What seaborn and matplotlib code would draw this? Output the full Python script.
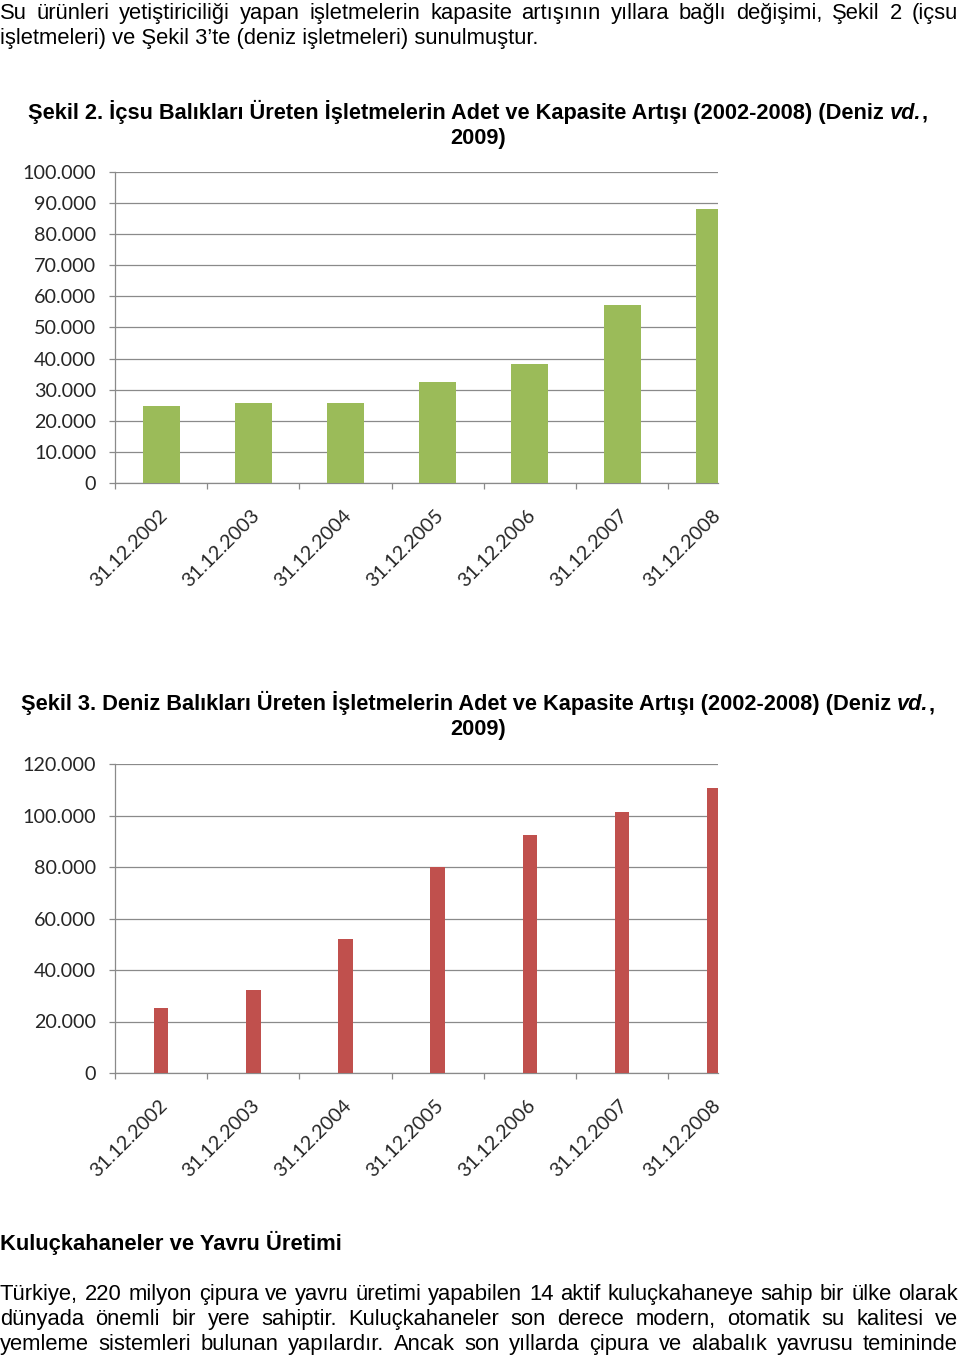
import matplotlib
matplotlib.use("Agg")
import matplotlib.pyplot as plt
import matplotlib.transforms as mtransforms
from matplotlib.ticker import FuncFormatter, MultipleLocator, FixedLocator
import numpy as np
import pandas as pd
import seaborn as sns

# ---------------- data ----------------
dates = ["31.12.2002", "31.12.2003", "31.12.2004", "31.12.2005",
         "31.12.2006", "31.12.2007", "31.12.2008"]
icsu_values = [24800, 25600, 25600, 32600, 38300, 57200, 88100]
deniz_values = [25200, 32300, 52200, 80000, 92400, 101400, 110800]

intro_line1 = ("Su ürünleri yetiştiriciliği yapan işletmelerin kapasite artışının "
               "yıllara bağlı değişimi, Şekil 2 (içsu")
intro_line2 = "işletmeleri) ve Şekil 3’te (deniz işletmeleri) sunulmuştur."
cap1 = "Şekil 2. İçsu Balıkları Üreten İşletmelerin Adet ve Kapasite Artışı (2002-2008) (Deniz"
cap2 = "Şekil 3. Deniz Balıkları Üreten İşletmelerin Adet ve Kapasite Artışı (2002-2008) (Deniz"
cap_end = "2009)"
heading = "Kuluçkahaneler ve Yavru Üretimi"
para = [
    "Türkiye, 220 milyon çipura ve yavru üretimi yapabilen 14 aktif kuluçkahaneye sahip bir ülke olarak",
    "dünyada önemli bir yere sahiptir. Kuluçkahaneler son derece modern, otomatik su kalitesi ve",
    "yemleme sistemleri bulunan yapılardır. Ancak son yıllarda çipura ve alabalık yavrusu temininde",
]

# ---------------- style ----------------
W, H = 960, 1356
sns.set_style("white")
plt.rcParams["font.family"] = ["Liberation Sans", "DejaVu Sans"]
GRID = "#8a8a8a"
GREEN = "#9BBB59"
RED = "#C0504D"
BODY_FS = 15.8
CAP_FS = 15.65
TICK_FONT = "Lato"
TICK_FS = 14.2

fig = plt.figure(figsize=(W / 100, H / 100), dpi=100)
fig.patch.set_facecolor("white")
renderer = fig.canvas.get_renderer()


def px_axes(l, t, r, b):
    return fig.add_axes([l / W, 1 - b / H, (r - l) / W, (b - t) / H])


def text_w(s, **kw):
    t = fig.text(0, 0, s, **kw)
    w = t.get_window_extent(renderer).width
    t.remove()
    return w


def space_w(**kw):
    return text_w("a a", **kw) - text_w("aa", **kw)


def put(x, y, s, **kw):
    fig.text(x / W, 1 - y / H, s, va="baseline", ha="left", **kw)


def justified(line, y, x0=0, x1=958, **kw):
    words = line.split()
    widths = [text_w(w, **kw) for w in words]
    gap = (x1 - x0 - sum(widths)) / (len(words) - 1)
    x = x0
    for w, wd in zip(words, widths):
        put(x, y, w, **kw)
        x += wd + gap


def caption(main, y, cx):
    kb = dict(fontsize=CAP_FS, fontweight="bold", color="black")
    ki = dict(fontsize=CAP_FS, fontweight="bold", fontstyle="italic", color="black")
    sp = space_w(**kb)
    w1 = text_w(main, **kb)
    w2 = text_w("vd.", **ki) + 0.5
    w3 = text_w(",", **kb)
    total = w1 + sp + w2 + w3
    x = cx - total / 2
    put(x, y, main, **kb)
    put(x + w1 + sp, y, "vd.", **ki)
    put(x + w1 + sp + w2, y, ",", **kb)
    fig.text(cx / W, 1 - (y + 25) / H, cap_end, va="baseline", ha="center", **kb)


def thousands(v, p):
    return f"{int(round(v)):,}".replace(",", ".")


def draw_chart(ax, values, color, width, ymax, step):
    df = pd.DataFrame({"tarih": dates, "kapasite": values})
    sns.barplot(data=df, x="tarih", y="kapasite", color=color, width=width,
                saturation=1, linewidth=0, ax=ax, zorder=3)
    ax.set_facecolor("white")
    ax.set_xlim(-0.5, 6.04)
    ax.set_ylim(0, ymax)
    ax.yaxis.set_major_locator(MultipleLocator(step))
    ax.yaxis.set_major_formatter(FuncFormatter(thousands))
    ax.grid(axis="y", color=GRID, lw=0.9, zorder=0)
    ax.grid(axis="x", visible=False)
    ax.set_axisbelow(True)
    for s in ["top", "right"]:
        ax.spines[s].set_visible(False)
    for s in ["left", "bottom"]:
        ax.spines[s].set_color(GRID)
        ax.spines[s].set_linewidth(0.9)
    ax.set_xlabel("")
    ax.set_ylabel("")
    ax.tick_params(axis="y", which="major", left=True, direction="out", length=4.3,
                   width=0.9, color=GRID, pad=9.3, labelsize=TICK_FS, labelcolor="#262626")
    for lab in ax.get_yticklabels():
        lab.set_fontfamily(TICK_FONT)
    ax.xaxis.set_minor_locator(FixedLocator(np.arange(-0.5, 6.0, 1.0)))
    ax.tick_params(axis="x", which="minor", bottom=True, direction="out", length=4.3,
                   width=0.9, color=GRID)
    ax.tick_params(axis="x", which="major", bottom=True, length=0, pad=17,
                   labelsize=TICK_FS, labelcolor="#262626")
    offset = mtransforms.ScaledTranslation(-3 / 100, 0, fig.dpi_scale_trans)
    for lab in ax.get_xticklabels():
        lab.set_fontfamily(TICK_FONT)
        lab.set_rotation(45)
        lab.set_ha("right")
        lab.set_va("top")
        lab.set_rotation_mode("anchor")
        lab.set_transform(lab.get_transform() + offset)


# ---------------- text ----------------
body = dict(fontsize=BODY_FS, color="black")
justified(intro_line1, 19, **body)
put(0, 44, intro_line2, **body)
caption(cap1, 119, 478)

ax1 = px_axes(115, 172, 718, 483)
draw_chart(ax1, icsu_values, GREEN, 0.4, 100000, 10000)

caption(cap2, 710, 478)
ax2 = px_axes(115, 764, 718, 1073)
draw_chart(ax2, deniz_values, RED, 0.16, 120000, 20000)

put(0, 1250, heading, fontsize=BODY_FS, fontweight="bold", color="black")
for i, line in enumerate(para):
    justified(line, 1300 + 25 * i, **body)

fig.savefig("out.png", dpi=100, facecolor="white")
